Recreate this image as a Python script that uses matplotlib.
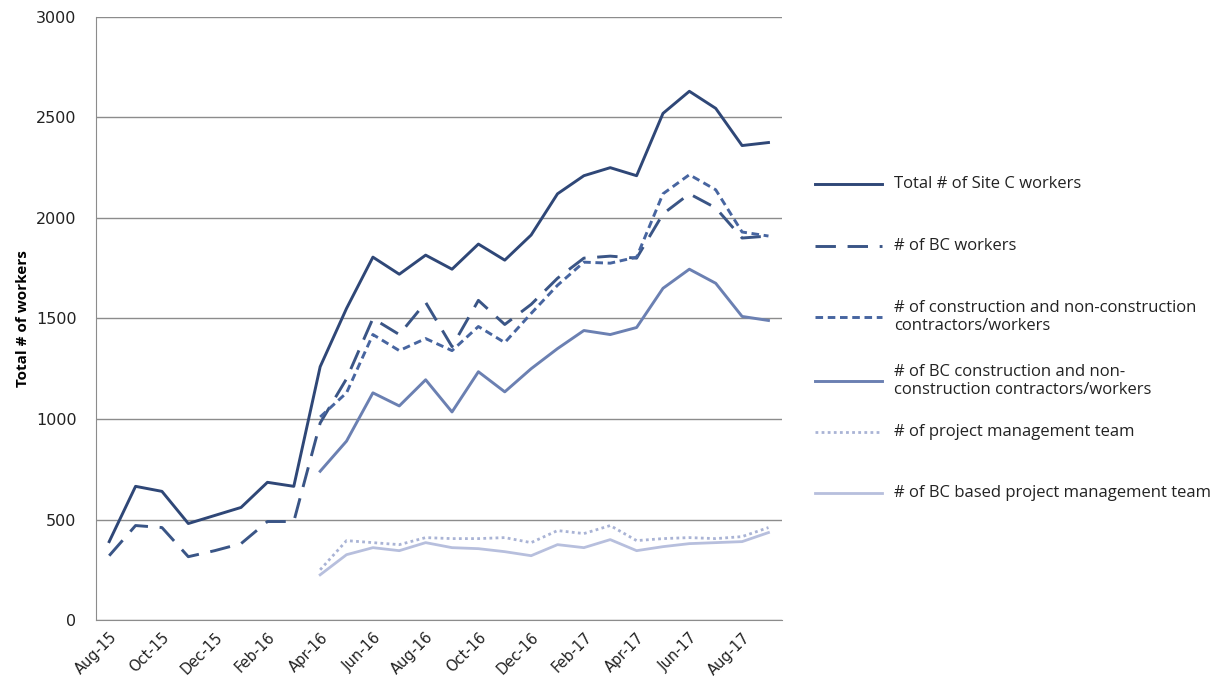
import numpy as np
import matplotlib
matplotlib.use("Agg")
import matplotlib.pyplot as plt
from matplotlib.lines import Line2D

months = [
    "Aug-15", "Sep-15", "Oct-15", "Nov-15", "Dec-15", "Jan-16", "Feb-16",
    "Mar-16", "Apr-16", "May-16", "Jun-16", "Jul-16", "Aug-16", "Sep-16",
    "Oct-16", "Nov-16", "Dec-16", "Jan-17", "Feb-17", "Mar-17", "Apr-17",
    "May-17", "Jun-17", "Jul-17", "Aug-17", "Sep-17",
]
nan = np.nan

total_workers = [390, 665, 640, 480, 520, 560, 685, 665, 1260, 1550, 1805, 1720,
                 1815, 1745, 1870, 1790, 1915, 2120, 2210, 2250, 2210, 2520,
                 2630, 2545, 2360, 2375]
bc_workers = [320, 470, 460, 315, 345, 380, 490, 490, 980, 1200, 1500, 1420,
              1580, 1360, 1590, 1470, 1570, 1700, 1800, 1810, 1800, 2020,
              2120, 2050, 1900, 1910]
contractors = [nan] * 8 + [1010, 1130, 1420, 1340, 1400, 1340, 1460, 1380, 1525,
                           1665, 1780, 1775, 1805, 2120, 2215, 2140, 1930, 1910]
bc_contractors = [nan] * 8 + [740, 890, 1130, 1065, 1195, 1035, 1235, 1135, 1250,
                              1350, 1440, 1420, 1455, 1650, 1745, 1675, 1510, 1490]
pm_team = [nan] * 8 + [250, 395, 385, 375, 410, 405, 405, 410, 385,
                       445, 430, 470, 395, 405, 410, 405, 415, 460]
bc_pm_team = [nan] * 8 + [225, 325, 360, 345, 385, 360, 355, 340, 320,
                          375, 360, 400, 345, 365, 380, 385, 390, 435]

labels = [
    "Total # of Site C workers",
    "# of BC workers",
    "# of construction and non-construction\ncontractors/workers",
    "# of BC construction and non-\nconstruction contractors/workers",
    "# of project management team",
    "# of BC based project management team",
]

x = np.arange(len(months))

fig = plt.figure(figsize=(12.2, 6.92), dpi=100)
ax = fig.add_axes([0.0787, 0.104, 0.562, 0.8716])

lines = []
lines += ax.plot(x, total_workers, color="#2f4777", lw=2.1)
lines += ax.plot(x, bc_workers, color="#3a5586", lw=2.1, dashes=(7, 4))
lines += ax.plot(x, contractors, color="#4765a0", lw=2.1, dashes=(2.6, 1.6))
lines += ax.plot(x, bc_contractors, color="#6b80b2", lw=2.1)
lines += ax.plot(x, pm_team, color="#a9b3d5", lw=2.0, dashes=(1, 1.2))
lines += ax.plot(x, bc_pm_team, color="#b7bfdd", lw=2.0)

ax.set_xlim(-0.5, len(months) - 0.5)
ax.set_ylim(0, 3000)
ax.set_yticks(range(0, 3001, 500))
ax.set_xticks(x[::2])
ax.set_xticklabels(months[::2], rotation=45, ha="right", rotation_mode="anchor",
                   fontsize=10.5, family="DejaVu Sans")
for t in ax.get_yticklabels():
    t.set_fontsize(11.5)
    t.set_family("DejaVu Sans")
ax.tick_params(length=0, pad=14, colors="#222222")
ax.tick_params(axis="x", pad=7)

ax.grid(axis="y", color="#8c8c8c", lw=1)
ax.set_axisbelow(True)
for s in ["top", "right"]:
    ax.spines[s].set_visible(False)
ax.spines["left"].set_color("#8c8c8c")
ax.spines["bottom"].set_color("#8c8c8c")

ax.set_ylabel("Total # of workers", fontsize=11, fontweight="bold",
              family="Open Sans", labelpad=4)

# legend, placed by hand to follow the uneven spacing of the original
W, H = 1220, 692
legend_y = [184, 246, 317, 381, 432, 493]
for ln, lab, ypx in zip(lines, labels, legend_y):
    yf = 1 - ypx / H
    h = Line2D([815 / W, 882 / W], [yf, yf], transform=fig.transFigure,
               color=ln.get_color(), lw=ln.get_linewidth(),
               linestyle=ln.get_linestyle())
    if ln.get_linestyle() != "-":
        h.set_dashes(ln._unscaled_dash_pattern[1])
    fig.add_artist(h)
    fig.text(894 / W, yf, lab, ha="left", va="center", fontsize=12,
             family="Open Sans", color="#222222", linespacing=1.25)

fig.savefig("out.png", dpi=100, facecolor="white")
